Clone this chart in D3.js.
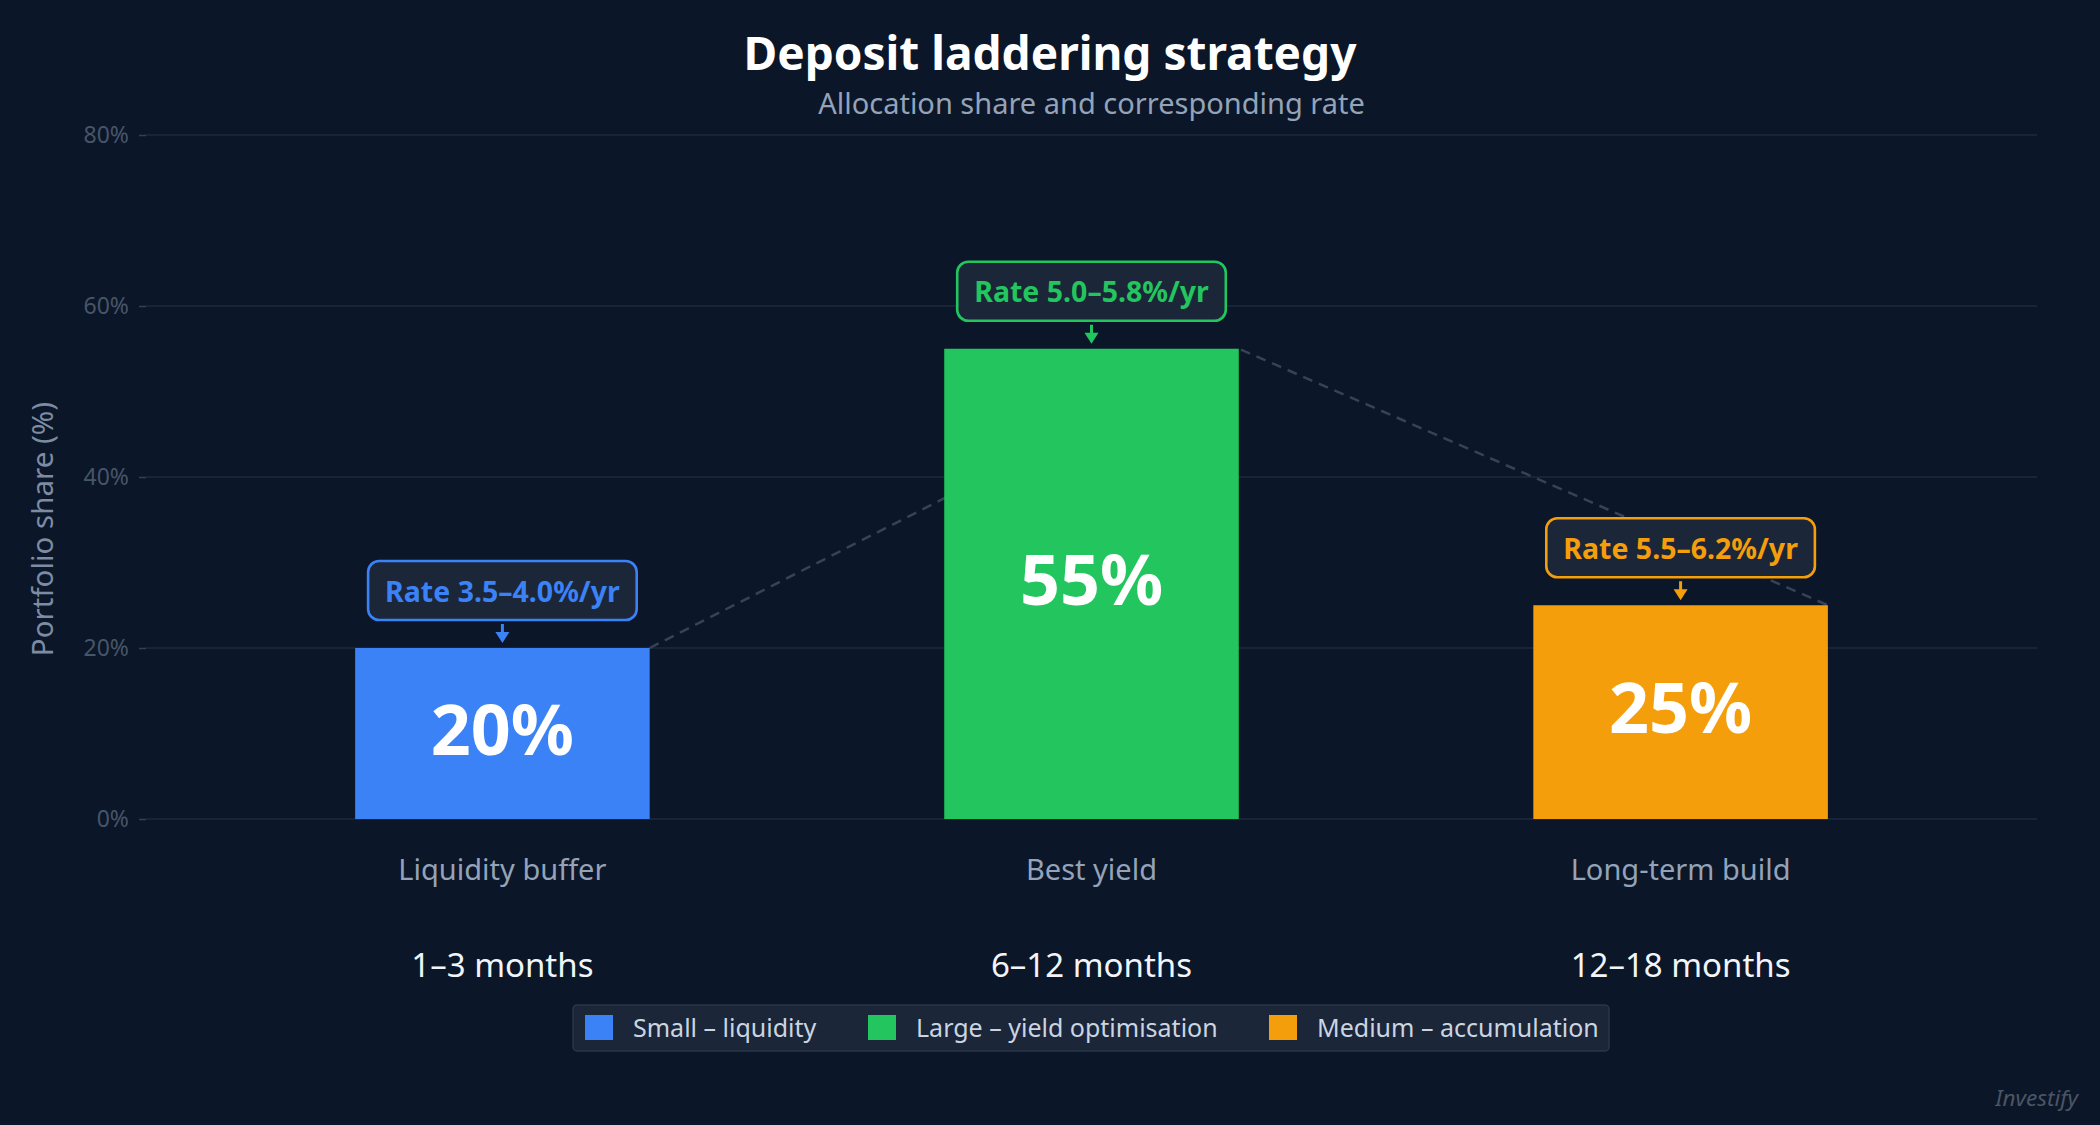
<!DOCTYPE html>
<html>
<head>
<meta charset="utf-8">
<script src="https://cdn.jsdelivr.net/npm/d3@7"></script>
<style>
  html, body { margin: 0; padding: 0; background: #0b1628; }
  svg { display: block; }
  text { font-family: "Noto Sans", "Open Sans", sans-serif; }
</style>
</head>
<body>
<svg id="chart" width="2100" height="1125"></svg>
<script>
// ---- data ----
const categories = ["Liquidity buffer", "Best yield", "Long-term build"];
const horizons = ["1–3 months", "6–12 months", "12–18 months"];
const shares = [20, 55, 25];
const rateLabels = ["Rate 3.5–4.0%/yr", "Rate 5.0–5.8%/yr", "Rate 5.5–6.2%/yr"];
const legendLabels = ["Small – liquidity", "Large – yield optimisation", "Medium – accumulation"];
const colors = ["#3b82f6", "#22c55e", "#f59e0b"];
const yTicks = [0, 20, 40, 60, 80];

const W = 2100, H = 1125;
const svg = d3.select("#chart");
svg.append("rect").attr("width", W).attr("height", H).attr("fill", "#0b1628");

const plot = { left: 146, right: 2037, top: 135, bottom: 819 };

const x = d3.scaleBand().domain(categories).range([plot.left, plot.right])
  .paddingInner(0.5).paddingOuter(0.355);
const y = d3.scaleLinear().domain([0, 80]).range([plot.bottom, plot.top]);

// title
svg.append("text").attr("x", W / 2).attr("y", 70).attr("text-anchor", "middle")
  .attr("font-size", 46).attr("font-weight", 700).attr("fill", "#ffffff")
  .text("Deposit laddering strategy");
svg.append("text").attr("x", (plot.left + plot.right) / 2).attr("y", 114).attr("text-anchor", "middle")
  .attr("font-size", 29).attr("fill", "#94a3b8")
  .text("Allocation share and corresponding rate");

// gridlines
svg.append("g").selectAll("line").data(yTicks).join("line")
  .attr("x1", plot.left).attr("x2", plot.right)
  .attr("y1", d => y(d)).attr("y2", d => y(d))
  .attr("stroke", "#1e2a3c").attr("stroke-width", 1.3);

// y axis
const yAxis = svg.append("g").attr("transform", `translate(${plot.left},0)`)
  .call(d3.axisLeft(y).tickValues(yTicks).tickFormat(d => d + "%").tickSize(7).tickPadding(10));
yAxis.select(".domain").remove();
yAxis.selectAll(".tick line").attr("stroke", "#334155").attr("stroke-width", 1.5);
yAxis.selectAll(".tick text").attr("fill", "#475569").attr("font-size", 23)
  .attr("font-family", '"Noto Sans", sans-serif');

svg.append("text").attr("transform", "translate(41,529) rotate(-90)")
  .attr("text-anchor", "middle").attr("dominant-baseline", "central")
  .attr("font-size", 29.5).attr("fill", "#7d8ca3").text("Portfolio share (%)");

// dashed connector between bar top-right corners
const connector = d3.line().x((d, i) => x(categories[i]) + x.bandwidth()).y(d => y(d));
svg.append("path").datum(shares).attr("d", connector)
  .attr("fill", "none").attr("stroke", "#364357").attr("stroke-width", 2.5)
  .attr("stroke-dasharray", "10 7");

// bars
svg.append("g").selectAll("rect").data(shares).join("rect")
  .attr("x", (d, i) => x(categories[i])).attr("width", x.bandwidth())
  .attr("y", d => y(d)).attr("height", d => y(0) - y(d))
  .attr("fill", (d, i) => colors[i]);

// values
svg.append("g").selectAll("text").data(shares).join("text")
  .attr("x", (d, i) => x(categories[i]) + x.bandwidth() / 2)
  .attr("y", d => (y(d) + y(0)) / 2 - 6)
  .attr("text-anchor", "middle").attr("dominant-baseline", "central")
  .attr("font-size", 70).attr("font-weight", 700).attr("fill", "#ffffff")
  .text(d => d + "%");

// rate callouts
const callouts = svg.append("g");
shares.forEach((v, i) => {
  const cx = x(categories[i]) + x.bandwidth() / 2;
  const top = y(v);
  const boxBottom = top - 28, boxH = 59, boxTop = boxBottom - boxH;
  const g = callouts.append("g");
  const rect = g.append("rect");
  const t = g.append("text").attr("x", cx).attr("y", boxTop + boxH / 2)
    .attr("text-anchor", "middle").attr("dominant-baseline", "central")
    .attr("font-size", 28.5).attr("font-weight", 700).attr("fill", colors[i])
    .text(rateLabels[i]);
  const tw = t.node().getComputedTextLength();
  const bw = tw + 34;
  rect.attr("x", cx - bw / 2).attr("y", boxTop).attr("width", bw).attr("height", boxH)
    .attr("rx", 11).attr("fill", "#1b2638").attr("stroke", colors[i]).attr("stroke-width", 2.6);
  // arrow
  g.append("line").attr("x1", cx).attr("x2", cx).attr("y1", boxBottom + 4).attr("y2", top - 14)
    .attr("stroke", colors[i]).attr("stroke-width", 3);
  g.append("path").attr("d", `M${cx - 7},${top - 16} L${cx + 7},${top - 16} L${cx},${top - 5} Z`)
    .attr("fill", colors[i]);
});

// x category labels
svg.append("g").selectAll("text").data(categories).join("text")
  .attr("x", d => x(d) + x.bandwidth() / 2).attr("y", 880)
  .attr("text-anchor", "middle").attr("font-size", 29).attr("fill", "#94a3b8")
  .text(d => d);
svg.append("g").selectAll("text").data(horizons).join("text")
  .attr("x", (d, i) => x(categories[i]) + x.bandwidth() / 2).attr("y", 977)
  .attr("text-anchor", "middle").attr("font-size", 33).attr("fill", "#f1f5f9")
  .text(d => d);

// legend
const legend = svg.append("g");
legend.append("rect").attr("x", 573).attr("y", 1005).attr("width", 1036).attr("height", 46)
  .attr("rx", 4).attr("fill", "#1b2639").attr("stroke", "#2a374b").attr("stroke-width", 1.5);
const swatchX = [585, 868, 1269];
legendLabels.forEach((lab, i) => {
  legend.append("rect").attr("x", swatchX[i]).attr("y", 1015).attr("width", 28).attr("height", 25)
    .attr("fill", colors[i]);
  legend.append("text").attr("x", swatchX[i] + 48).attr("y", 1027)
    .attr("dominant-baseline", "central").attr("font-size", 25).attr("fill", "#cbd5e1")
    .text(lab);
});

// watermark
svg.append("text").attr("x", 2078).attr("y", 1106).attr("text-anchor", "end")
  .attr("font-size", 22.5).attr("font-style", "italic").attr("fill", "#4b5563")
  .text("Investify");
</script>
</body>
</html>
